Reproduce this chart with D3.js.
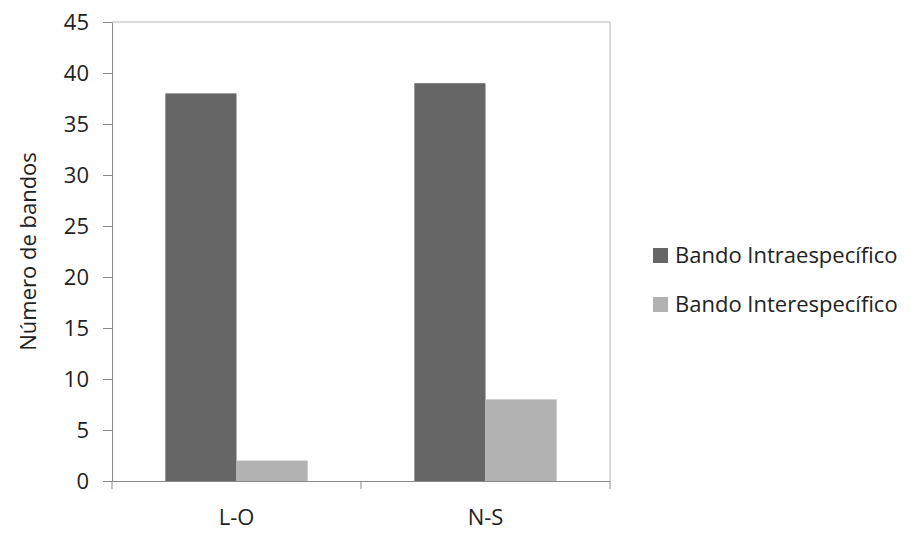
<!DOCTYPE html>
<html>
<head>
<meta charset="utf-8">
<script src="https://cdn.jsdelivr.net/npm/d3@7"></script>
<style>
  html, body { margin: 0; padding: 0; background: #fff; }
  svg text { font-family: "Open Sans", "Noto Sans", sans-serif; fill: #222; }
</style>
</head>
<body>
<svg id="chart" width="911" height="538"></svg>
<script>
const categories = ["L-O", "N-S"];
const seriesNames = ["Bando Intraespecífico", "Bando Interespecífico"];
const intraValues = [38, 39];
const interValues = [2, 8];
const yTicks = [0, 5, 10, 15, 20, 25, 30, 35, 40, 45];
const seriesColors = ["#666666", "#b2b2b2"];

const svg = d3.select("#chart");
const margin = { left: 112, right: 301, top: 22, bottom: 57 };
const W = 911, H = 538;
const x0 = margin.left, x1 = W - margin.right;
const y0 = H - margin.bottom, y1 = margin.top;

const x = d3.scaleBand().domain(categories).range([x0, x1]).paddingInner(0).paddingOuter(0);
const inner = d3.scaleBand().domain(seriesNames).range([0, x.bandwidth()]).paddingOuter(0.75).paddingInner(0);
const y = d3.scaleLinear().domain([0, 45]).range([y0, y1]);

const axisColor = "#8a8a8a";
const fontSize = 22;

// plot area frame (top and right edges)
svg.append("path")
  .attr("d", `M${x0},${y1}H${x1}V${y0}`)
  .attr("fill", "none").attr("stroke", "#b5b5b5").attr("stroke-width", 1);

// bars
const rows = categories.map((c, i) => ({ cat: c, vals: [intraValues[i], interValues[i]] }));
const groups = svg.append("g").selectAll("g").data(rows).join("g")
  .attr("transform", d => `translate(${x(d.cat)},0)`);
groups.selectAll("rect")
  .data(d => d.vals.map((v, j) => ({ v, s: seriesNames[j], j })))
  .join("rect")
  .attr("x", d => inner(d.s))
  .attr("width", inner.bandwidth())
  .attr("y", d => y(d.v))
  .attr("height", d => y(0) - y(d.v))
  .attr("fill", d => seriesColors[d.j]);

// y axis
const yAxis = svg.append("g").attr("transform", `translate(${x0},0)`)
  .call(d3.axisLeft(y).tickValues(yTicks).tickSize(9).tickPadding(14).tickSizeOuter(0));
yAxis.selectAll("path, line").attr("stroke", axisColor);
yAxis.selectAll("text").attr("font-size", fontSize).style("font-family", "'Open Sans', sans-serif").attr("fill", "#222");

// x axis
const xAxis = svg.append("g").attr("transform", `translate(0,${y0})`)
  .call(d3.axisBottom(x).tickSize(0).tickPadding(28).tickSizeOuter(0));
xAxis.select("path").attr("stroke", axisColor);
xAxis.selectAll("text").attr("font-size", fontSize).style("font-family", "'Open Sans', sans-serif").attr("fill", "#222");
// category boundary ticks
const bounds = [x0, ...categories.slice(1).map(c => x(c)), x1];
svg.append("g").selectAll("line").data(bounds).join("line")
  .attr("x1", d => d).attr("x2", d => d)
  .attr("y1", y0).attr("y2", y0 + 8)
  .attr("stroke", axisColor);

// y axis title
svg.append("text")
  .attr("transform", `translate(36,${(y0 + y1) / 2}) rotate(-90)`)
  .attr("text-anchor", "middle")
  .attr("font-size", fontSize)
  .text("Número de bandos");

// legend
const legend = svg.append("g").attr("transform", "translate(653,248)");
const items = legend.selectAll("g").data(seriesNames).join("g")
  .attr("transform", (d, i) => `translate(0,${i * 49})`);
items.append("rect").attr("width", 15).attr("height", 15).attr("fill", (d, i) => seriesColors[i]);
items.append("text").attr("x", 22).attr("y", 7.5).attr("dy", "0.35em")
  .attr("font-size", fontSize).text(d => d);
</script>
</body>
</html>
